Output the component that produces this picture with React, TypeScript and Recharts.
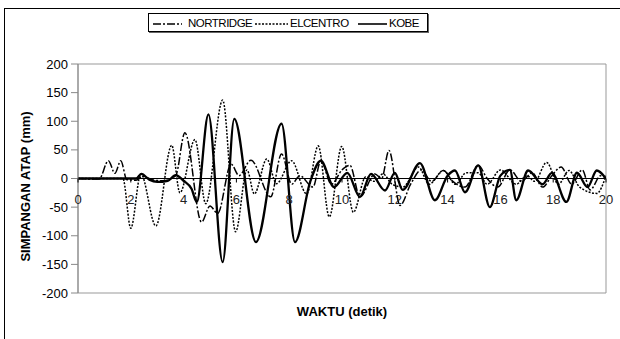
import React from 'react';
import { LineChart, Line, XAxis, YAxis, ReferenceLine, ReferenceArea, Legend, Label } from 'recharts';

// ---- data (time in s, roof displacement in mm) ----
const seriesNames = ['NORTRIDGE', 'ELCENTRO', 'KOBE'];
const timeTicks = [0, 2, 4, 6, 8, 10, 12, 14, 16, 18, 20];
const valueTicks = [-200, -150, -100, -50, 0, 50, 100, 150, 200];

const nortridgePts: [number, number][] = [
  [0, 0], [0.8, -1], [1.15, 31], [1.4, 9], [1.62, 31], [1.85, -2], [2.2, -3], [2.45, 4], [2.8, -2],
  [3.2, -4], [3.7, 5], [4.05, 80], [4.68, -76], [5.0, -48], [5.29, -61], [5.8, 25], [6.1, 5],
  [6.55, 32], [7.3, -32], [7.71, 43], [8.1, -10], [8.4, 5], [8.9, -15], [9.2, 31], [9.6, -10],
  [10.0, 15], [10.3, 23], [10.68, -32], [11.25, 8], [11.5, 0], [11.78, 49], [12.2, -47], [12.6, -10],
  [13.0, 15], [13.4, -5], [13.84, 14], [14.2, -5], [14.66, -15], [15.16, 23], [15.5, 0], [15.9, -15],
  [16.36, 15], [16.8, -5], [17.2, 10], [17.6, -15], [17.95, 5], [18.3, 20], [18.7, -10], [19.1, 15],
  [19.4, -20], [19.8, 5], [20, 0],
];

const elcentroPts: [number, number][] = [
  [0, 0], [1.7, 0], [2.0, -87], [2.38, 8], [2.95, -83], [3.55, 58], [3.86, -25], [4.43, 68],
  [4.84, -44], [5.48, 137], [5.97, -93], [6.4, 15], [6.68, -27], [7.15, 34], [7.52, -9], [8.09, 31],
  [8.66, -27], [9.1, 57], [9.52, -67], [9.99, 56], [10.43, -59], [10.9, 3], [11.2, -5], [11.55, 8],
  [11.9, -10], [12.3, -15], [12.9, 20], [13.3, -10], [13.84, 14], [14.3, -10], [14.7, 10],
  [15.16, 10], [15.5, -10], [16.0, 15], [16.6, -10], [17.0, 5], [17.3, -5], [17.75, 28],
  [18.2, -10], [18.6, 14], [19.0, -15], [19.65, -26], [20, 5],
];

const kobePts: [number, number][] = [
  [0, 0], [2.2, 0], [2.4, 8], [2.7, -2], [3.0, -6], [3.4, -4], [3.7, 6], [4.0, -4], [4.3, -18],
  [4.5, -41], [4.94, 112], [5.48, -146], [5.92, 104], [6.74, -111], [7.71, 96], [8.22, -111],
  [8.8, -5], [9.2, 31], [9.7, -15], [10.2, 10], [10.68, -32], [11.1, 8], [11.63, -21], [12.0, 10],
  [12.3, -20], [12.95, 27], [13.52, -38], [14.0, 5], [14.28, 14], [14.66, -24], [15.16, 23],
  [15.6, -50], [16.0, 5], [16.36, 15], [16.6, -38], [17.05, 14], [17.6, -10], [17.95, 10],
  [18.5, -41], [18.9, 10], [19.3, -15], [19.65, 14], [20, 0],
];

// ---- layout ----
const W = 620;
const H = 339;
const M_TOP = 64;
const X_AXIS_H = 30;
const M_BOTTOM = 16;
const M_LEFT = 18;
const Y_AXIS_W = 60;
const M_RIGHT = 14;
const Y_MIN = -200;
const Y_MAX = 200;
const PLOT_H = H - M_TOP - M_BOTTOM - X_AXIS_H;
const ZERO_Y = M_TOP + (PLOT_H * (Y_MAX - 0)) / (Y_MAX - Y_MIN);
const FONT = '"Liberation Sans", Arial, sans-serif';

const toRows = (pts: [number, number][]) => pts.map(([t, v]) => ({ t, v }));
const nortridge = toRows(nortridgePts);
const elcentro = toRows(elcentroPts);
const kobe = toRows(kobePts);

const dashes = ['8 2 2 2', '2 1.5', undefined];
const widths = [1.5, 1.5, 2.3];

const XTick = (props: any) => {
  const { x, payload } = props;
  return (
    <g>
      <line x1={x} x2={x} y1={ZERO_Y} y2={ZERO_Y + 4} stroke="#000" strokeWidth={1} />
      <text x={x} y={ZERO_Y + 25} textAnchor="middle" fontSize={13} fontFamily={FONT} fill="#222">
        {payload.value}
      </text>
    </g>
  );
};

const LegendBox = () => {
  const samplePos = [4, 106, 209];
  const sampleW = [29, 33, 29];
  const textPos = [39, 141, 240];
  return (
    <div
      style={{
        position: 'relative',
        width: 280,
        height: 19,
        border: '1px solid #000',
        boxShadow: '1px 1px 0 #666',
        background: '#fff',
        boxSizing: 'border-box',
        fontFamily: FONT,
        fontSize: 11.5,
        color: '#000',
      }}
    >
      {seriesNames.map((name, i) => (
        <React.Fragment key={name}>
          <svg
            width={sampleW[i]}
            height={6}
            style={{ position: 'absolute', left: samplePos[i], top: 7 }}
          >
            <line
              x1={0}
              x2={sampleW[i]}
              y1={3}
              y2={3}
              stroke="#000"
              strokeWidth={1.6}
              strokeDasharray={dashes[i]}
            />
          </svg>
          <span style={{ position: 'absolute', left: textPos[i], top: 2, lineHeight: '14px', letterSpacing: -0.5 }}>
            {name}
          </span>
        </React.Fragment>
      ))}
    </div>
  );
};

const YLabel = (props: any) => {
  const { viewBox } = props;
  const x = viewBox.x + 12;
  const y = viewBox.y + viewBox.height / 2 + 8;
  return (
    <text
      x={x}
      y={y}
      transform={`rotate(-90 ${x} ${y})`}
      textAnchor="middle"
      fontSize={13}
      fontWeight="bold"
      fontFamily={FONT}
      fill="#000"
    >
      SIMPANGAN ATAP (mm)
    </text>
  );
};

const XLabel = (props: any) => {
  const { viewBox } = props;
  return (
    <text
      x={viewBox.x + viewBox.width / 2}
      y={viewBox.y + 23}
      textAnchor="middle"
      fontSize={13}
      fontWeight="bold"
      fontFamily={FONT}
      fill="#000"
    >
      WAKTU (detik)
    </text>
  );
};

export default function App() {
  return (
    <div style={{ position: 'absolute', left: 0, top: 0, width: W, height: H, background: '#fff', overflow: 'hidden' }}>
      <div
        style={{
          position: 'absolute',
          left: 4,
          top: 8,
          width: 700,
          height: 400,
          border: '1px solid #000',
        }}
      />
      <div style={{ position: 'absolute', left: 0, top: 0 }}>
        <LineChart
          width={W}
          height={H}
          margin={{ top: M_TOP, right: M_RIGHT, bottom: M_BOTTOM, left: M_LEFT }}
        >
          <ReferenceArea
            x1={0}
            x2={20}
            y1={Y_MIN}
            y2={Y_MAX}
            fill="#fff"
            fillOpacity={1}
            stroke="#999"
            strokeWidth={1}
          />
          <XAxis
            dataKey="t"
            type="number"
            domain={[0, 20]}
            ticks={timeTicks}
            interval={0}
            allowDataOverflow
            axisLine={false}
            tickLine={false}
            tick={<XTick />}
            height={X_AXIS_H}
          >
            <Label content={<XLabel />} />
          </XAxis>
          <YAxis
            type="number"
            domain={[Y_MIN, Y_MAX]}
            ticks={valueTicks}
            interval={0}
            width={Y_AXIS_W}
            axisLine={{ stroke: '#888' }}
            tickLine={{ stroke: '#888' }}
            tickSize={7}
            tickMargin={3}
            tick={{ fontSize: 13, fontFamily: FONT, fill: '#000' }}
          >
            <Label content={<YLabel />} />
          </YAxis>
          <ReferenceLine y={0} stroke="#000" strokeWidth={1} />
          <Line
            data={nortridge}
            dataKey="v"
            name={seriesNames[0]}
            type="monotone"
            dot={false}
            stroke="#000"
            strokeWidth={widths[0]}
            strokeDasharray={dashes[0]}
            isAnimationActive={false}
          />
          <Line
            data={elcentro}
            dataKey="v"
            name={seriesNames[1]}
            type="monotone"
            dot={false}
            stroke="#000"
            strokeWidth={widths[1]}
            strokeDasharray={dashes[1]}
            isAnimationActive={false}
          />
          <Line
            data={kobe}
            dataKey="v"
            name={seriesNames[2]}
            type="monotone"
            dot={false}
            stroke="#000"
            strokeWidth={widths[2]}
            isAnimationActive={false}
          />
          <Legend
            layout="vertical"
            verticalAlign="middle"
            align="center"
            content={<LegendBox />}
            wrapperStyle={{ left: 148, top: 13, width: 280, height: 19 }}
          />
        </LineChart>
      </div>
    </div>
  );
}
